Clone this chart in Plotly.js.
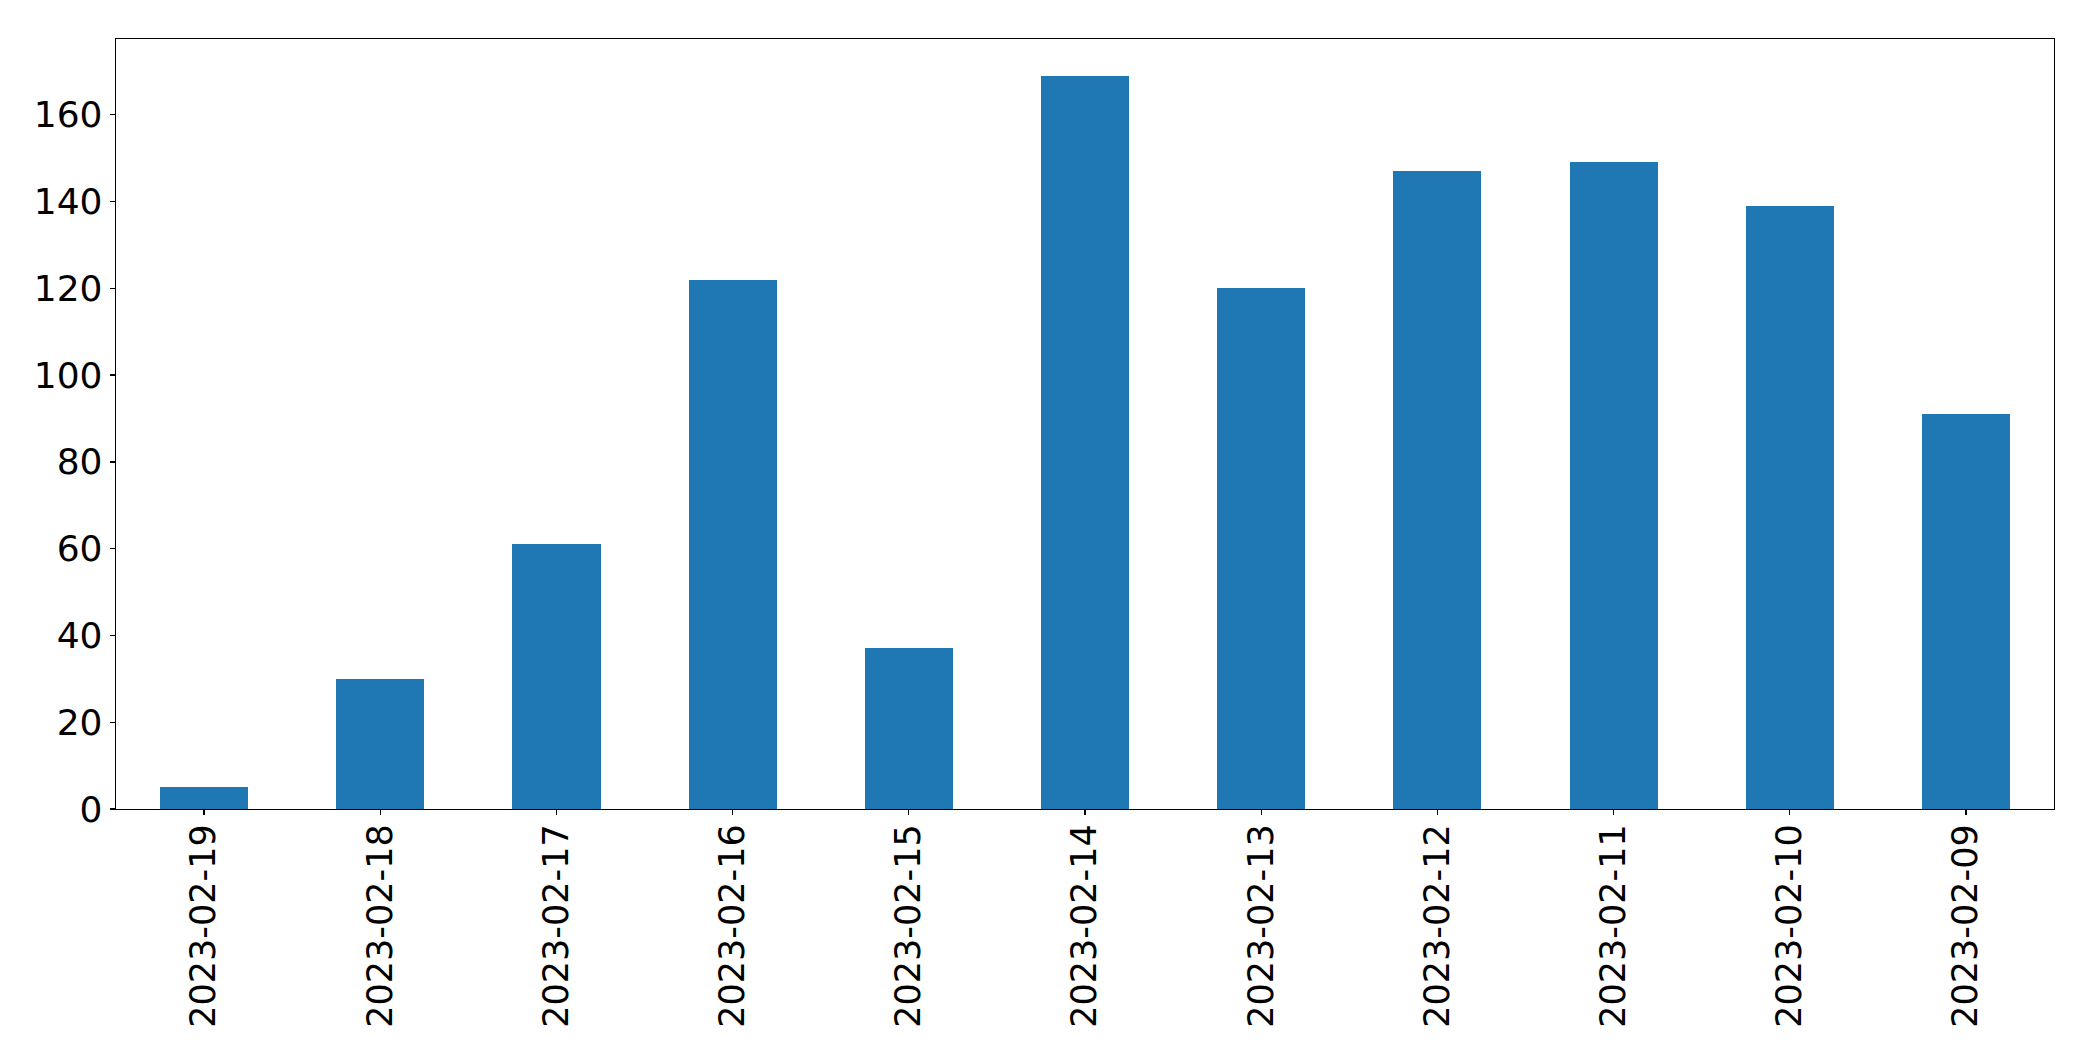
<!DOCTYPE html>
<html>
<head>
<meta charset="utf-8">
<script src="https://cdn.plot.ly/plotly-3.0.1.min.js"></script>
<style>html,body{margin:0;padding:0;background:#fff;}#chart{width:2093px;height:1061px;}</style>
</head>
<body>
<div id="chart"></div>
<script>
const dates = ["2023-02-19","2023-02-18","2023-02-17","2023-02-16","2023-02-15","2023-02-14","2023-02-13","2023-02-12","2023-02-11","2023-02-10","2023-02-09"];
const counts = [5, 30, 61, 122, 37, 169, 120, 147, 149, 139, 91];
const yTicks = [0, 20, 40, 60, 80, 100, 120, 140, 160];

const trace = {
  type: 'bar',
  x: dates,
  y: counts,
  width: 0.5,
  marker: {color: '#1f77b4', line: {width: 0}},
  hoverinfo: 'x+y'
};

const axisCommon = {
  showline: true, linecolor: '#000', linewidth: 1.3, mirror: true,
  ticks: 'outside', ticklen: 5, tickwidth: 1.3, tickcolor: '#000',
  showgrid: false, zeroline: false,
  tickfont: {family: 'DejaVu Sans', size: 35, color: '#000'}
};

const layout = {
  width: 2093, height: 1061,
  margin: {l: 116, r: 39, t: 39, b: 252},
  paper_bgcolor: '#fff', plot_bgcolor: '#fff',
  showlegend: false,
  bargap: 0,
  xaxis: Object.assign({}, axisCommon, {
    type: 'category', range: [-0.5, 10.5], tickangle: -90, ticklabelstandoff: -5
  }),
  yaxis: Object.assign({}, axisCommon, {
    range: [0, 177.45], tickmode: 'array', tickvals: yTicks, ticktext: yTicks.map(String), ticklabelstandoff: 0,
    tickfont: {family: 'DejaVu Sans', size: 36, color: '#000'}
  })
};

Plotly.newPlot('chart', [trace], layout, {displayModeBar: false, staticPlot: true});
</script>
</body>
</html>
